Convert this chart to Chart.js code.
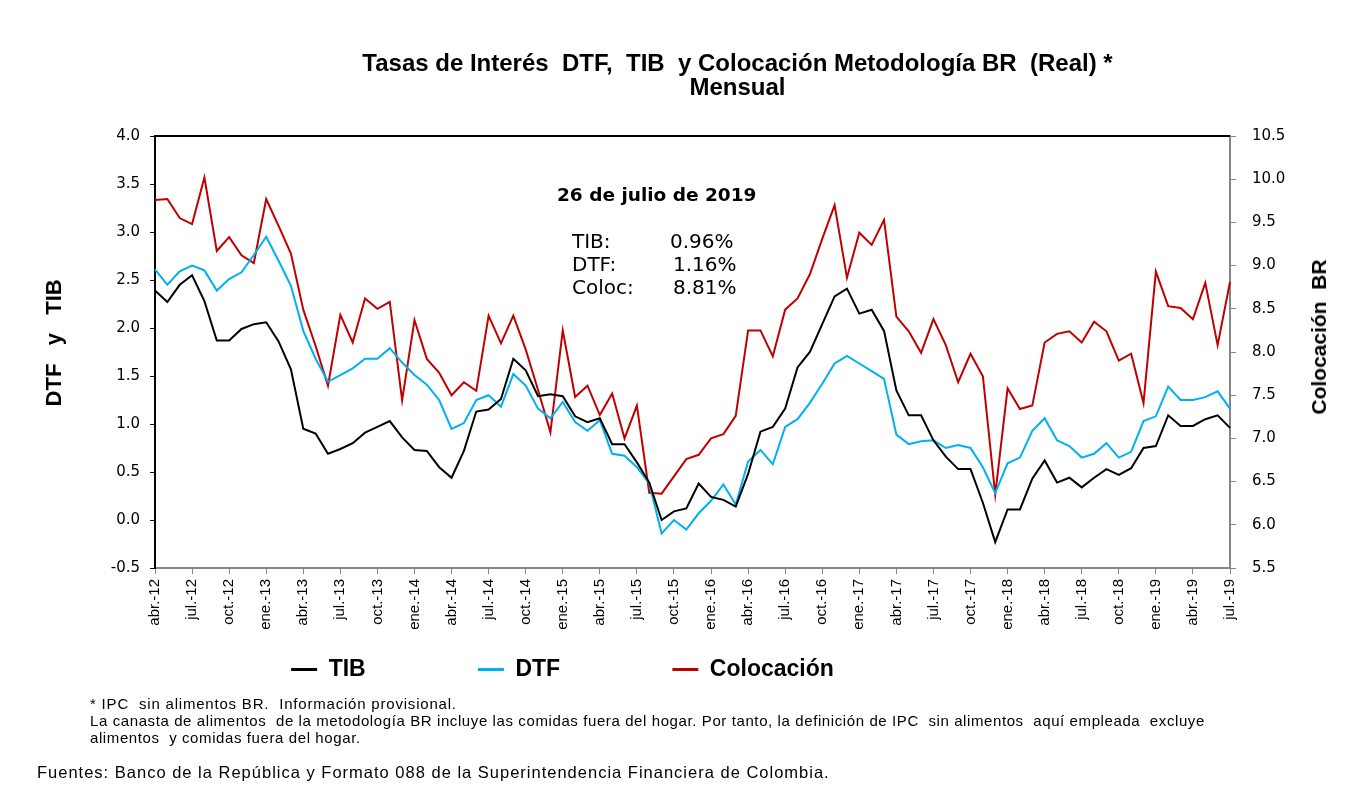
<!DOCTYPE html>
<html>
<head>
<meta charset="utf-8">
<title>Tasas de Interés DTF, TIB y Colocación</title>
<script src="https://cdn.jsdelivr.net/npm/chart.js@4.4.1/dist/chart.umd.min.js"></script>
<style>
    body { margin: 0; background: #fff; }
    #wrap { position: relative; width: 1355px; height: 786px; overflow: hidden; }
    #myChart { position: absolute; left: 0; top: 0; }
    .txt { position: absolute; white-space: pre; color: #000; }
    .anno { font-family: "DejaVu Sans", sans-serif; font-size: 20px; line-height: 20px; }
    .note { font-family: "Liberation Sans", Arial, sans-serif; font-size: 15px; line-height: 17px; letter-spacing: 0.6px; }
</style>
</head>
<body>
<div id="wrap">
    <canvas id="myChart" width="1355" height="786"></canvas>

    <div class="txt" style="left:557px; top:186px; font-family:'DejaVu Sans',sans-serif; font-weight:bold; font-size:18.5px; line-height:18px;">26 de julio de 2019</div>
    <div class="txt anno" style="left:572px; top:231px;">TIB:</div>
    <div class="txt anno" style="left:670px; top:231px;">0.96%</div>
    <div class="txt anno" style="left:572px; top:254px;">DTF:</div>
    <div class="txt anno" style="left:673px; top:254px;">1.16%</div>
    <div class="txt anno" style="left:572px; top:277px;">Coloc:</div>
    <div class="txt anno" style="left:673px; top:277px;">8.81%</div>

    <div class="txt" style="left:1319px; top:337px; transform:translate(-50%,-50%) rotate(-90deg); font-family:'Liberation Sans',Arial,sans-serif; font-weight:bold; font-size:21px;">Colocación  BR</div>

    <div class="txt note" style="left:90px; top:695px; letter-spacing:0.8px;">* IPC  sin alimentos BR.  Información provisional.</div>
    <div class="txt note" style="left:90px; top:712px;">La canasta de alimentos  de la metodología BR incluye las comidas fuera del hogar. Por tanto, la definición de IPC  sin alimentos  aquí empleada  excluye</div>
    <div class="txt note" style="left:90px; top:729px;">alimentos  y comidas fuera del hogar.</div>
    <div class="txt note" style="left:37px; top:764px; font-size:16.5px; letter-spacing:1px;">Fuentes: Banco de la República y Formato 088 de la Superintendencia Financiera de Colombia.</div>
</div>

<script>
// meses (abr-12 a jul-19)
var months = [
    'abr.-12', 'may.-12', 'jun.-12', 'jul.-12', 'ago.-12', 'sep.-12', 'oct.-12', 'nov.-12', 'dic.-12',
    'ene.-13', 'feb.-13', 'mar.-13', 'abr.-13', 'may.-13', 'jun.-13', 'jul.-13', 'ago.-13', 'sep.-13', 'oct.-13', 'nov.-13', 'dic.-13',
    'ene.-14', 'feb.-14', 'mar.-14', 'abr.-14', 'may.-14', 'jun.-14', 'jul.-14', 'ago.-14', 'sep.-14', 'oct.-14', 'nov.-14', 'dic.-14',
    'ene.-15', 'feb.-15', 'mar.-15', 'abr.-15', 'may.-15', 'jun.-15', 'jul.-15', 'ago.-15', 'sep.-15', 'oct.-15', 'nov.-15', 'dic.-15',
    'ene.-16', 'feb.-16', 'mar.-16', 'abr.-16', 'may.-16', 'jun.-16', 'jul.-16', 'ago.-16', 'sep.-16', 'oct.-16', 'nov.-16', 'dic.-16',
    'ene.-17', 'feb.-17', 'mar.-17', 'abr.-17', 'may.-17', 'jun.-17', 'jul.-17', 'ago.-17', 'sep.-17', 'oct.-17', 'nov.-17', 'dic.-17',
    'ene.-18', 'feb.-18', 'mar.-18', 'abr.-18', 'may.-18', 'jun.-18', 'jul.-18', 'ago.-18', 'sep.-18', 'oct.-18', 'nov.-18', 'dic.-18',
    'ene.-19', 'feb.-19', 'mar.-19', 'abr.-19', 'may.-19', 'jun.-19', 'jul.-19'
];

var tib = [
    2.39, 2.27, 2.45, 2.55, 2.28, 1.87, 1.87, 1.99, 2.04,
    2.06, 1.86, 1.57, 0.95, 0.90, 0.69, 0.74, 0.80, 0.91, 0.97, 1.03, 0.86,
    0.73, 0.72, 0.55, 0.44, 0.72, 1.13, 1.15, 1.26, 1.68, 1.56, 1.29, 1.31,
    1.29, 1.08, 1.02, 1.06, 0.79, 0.79, 0.60, 0.39, 0.00, 0.09, 0.12, 0.38,
    0.24, 0.21, 0.14, 0.48, 0.92, 0.97, 1.16, 1.59, 1.75, 2.04, 2.33, 2.41,
    2.15, 2.19, 1.97, 1.35, 1.09, 1.09, 0.83, 0.66, 0.53, 0.53, 0.18, -0.23,
    0.11, 0.11, 0.43, 0.62, 0.39, 0.44, 0.34, 0.44, 0.53, 0.47, 0.54, 0.75,
    0.77, 1.09, 0.98, 0.98, 1.05, 1.09, 0.96
];

var dtf = [
    2.61, 2.45, 2.59, 2.65, 2.60, 2.39, 2.51, 2.58, 2.76,
    2.95, 2.70, 2.44, 1.97, 1.68, 1.44, 1.51, 1.58, 1.68, 1.68, 1.79, 1.64,
    1.51, 1.41, 1.25, 0.95, 1.01, 1.25, 1.30, 1.18, 1.52, 1.40, 1.16, 1.06,
    1.23, 1.02, 0.93, 1.04, 0.69, 0.67, 0.55, 0.38, -0.14, 0.00, -0.10, 0.07,
    0.20, 0.37, 0.16, 0.61, 0.73, 0.58, 0.97, 1.05, 1.22, 1.42, 1.63, 1.71,
    1.63, 1.55, 1.47, 0.89, 0.79, 0.82, 0.83, 0.75, 0.78, 0.75, 0.55, 0.28,
    0.59, 0.65, 0.93, 1.06, 0.83, 0.77, 0.65, 0.69, 0.80, 0.65, 0.71, 1.03,
    1.08, 1.39, 1.25, 1.25, 1.28, 1.34, 1.16
];

var colocacion = [
    9.76, 9.77, 9.55, 9.48, 10.02, 9.17, 9.33, 9.12, 9.03,
    9.77, 9.46, 9.14, 8.49, 8.07, 7.61, 8.43, 8.11, 8.62, 8.50, 8.58, 7.44,
    8.37, 7.92, 7.76, 7.50, 7.65, 7.55, 8.42, 8.10, 8.42, 8.03, 7.56, 7.07,
    8.25, 7.48, 7.61, 7.27, 7.52, 7.00, 7.38, 6.37, 6.36, 6.56, 6.76, 6.81,
    7.00, 7.05, 7.26, 8.25, 8.25, 7.95, 8.49, 8.62, 8.90, 9.31, 9.70, 8.86,
    9.38, 9.24, 9.53, 8.41, 8.24, 7.99, 8.38, 8.08, 7.65, 7.98, 7.72, 6.35,
    7.58, 7.34, 7.38, 8.11, 8.21, 8.24, 8.11, 8.35, 8.24, 7.90, 7.98, 7.41,
    8.93, 8.53, 8.51, 8.38, 8.80, 8.08, 8.81
];

// espacios para separar las entradas de la leyenda
var legendGaps = [' '.repeat(16), ' '.repeat(16), ' '.repeat(36)];
var titlePad = '\u2003'.repeat(5);

Chart.defaults.font.family = "'Liberation Sans', Arial, sans-serif";
Chart.defaults.color = '#000';

// linea superior del area de grafico
var topBorder = {
    id: 'topBorder',
    afterDraw: function(chart) {
        var a = chart.chartArea;
        var c = chart.ctx;
        c.save();
        c.strokeStyle = '#000';
        c.lineWidth = 2;
        c.beginPath();
        c.moveTo(a.left, a.top);
        c.lineTo(a.right, a.top);
        c.stroke();
        c.restore();
    }
};

var ctx = document.getElementById('myChart').getContext('2d');

var myChart = new Chart(ctx, {
    type: 'line',
    data: {
        labels: months,
        datasets: [
            {
                label: 'TIB',
                data: tib,
                yAxisID: 'y',
                borderColor: '#000000',
                backgroundColor: '#000000',
                borderWidth: 2
            },
            {
                label: 'DTF',
                data: dtf,
                yAxisID: 'y',
                borderColor: '#00B0F0',
                backgroundColor: '#00B0F0',
                borderWidth: 2
            },
            {
                label: 'Colocación',
                data: colocacion,
                yAxisID: 'y1',
                borderColor: '#C00000',
                backgroundColor: '#C00000',
                borderWidth: 2
            }
        ]
    },
    options: {
        responsive: false,
        animation: false,
        layout: { padding: { left: 0, right: 0, top: 0, bottom: 95 } },
        elements: {
            point: { radius: 0 },
            line: { tension: 0 }
        },
        plugins: {
            tooltip: { enabled: false },
            title: {
                display: true,
                text: [titlePad + 'Tasas de Interés  DTF,  TIB  y Colocación Metodología BR  (Real) *', titlePad + 'Mensual'],
                font: { size: 24, weight: 'bold', lineHeight: 1.0 },
                color: '#000',
                padding: { top: 52, bottom: 36 }
            },
            legend: {
                position: 'bottom',
                labels: {
                    boxWidth: 26,
                    boxHeight: 3,
                    padding: 10,
                    color: '#000',
                    font: { size: 23, weight: 'bold' },
                    generateLabels: function(chart) {
                        var items = Chart.defaults.plugins.legend.labels.generateLabels(chart);
                        items.forEach(function(item, i) {
                            item.text = item.text + legendGaps[i];
                            item.lineWidth = 0;
                        });
                        return items;
                    }
                }
            }
        },
        scales: {
            x: {
                grid: {
                    drawOnChartArea: false,
                    tickLength: 6,
                    color: function(c) { return c.index % 3 === 0 ? '#868686' : 'rgba(0,0,0,0)'; }
                },
                border: { color: '#868686', width: 2 },
                ticks: {
                    autoSkip: false,
                    maxRotation: 90,
                    minRotation: 90,
                    padding: 5,
                    font: { size: 15 },
                    callback: function(value, index) {
                        return index % 3 === 0 ? this.getLabelForValue(value) : '';
                    }
                },
                afterFit: function(scale) { scale.height = 80; }
            },
            y: {
                position: 'left',
                min: -0.5,
                max: 4,
                grid: { drawOnChartArea: false, tickLength: 5, color: '#000' },
                border: { color: '#000', width: 2 },
                ticks: {
                    stepSize: 0.5,
                    padding: 10,
                    font: { size: 15, family: "'DejaVu Sans', sans-serif" },
                    callback: function(v) { return v.toFixed(1); }
                },
                title: {
                    display: true,
                    text: '   DTF   y   TIB',
                    font: { size: 22, weight: 'bold' },
                    padding: { top: 42, bottom: 0 }
                },
                afterFit: function(scale) { scale.width = 155; }
            },
            y1: {
                position: 'right',
                min: 5.5,
                max: 10.5,
                grid: { drawOnChartArea: false, tickLength: 6, color: '#868686' },
                border: { color: '#868686', width: 2 },
                ticks: {
                    stepSize: 0.5,
                    padding: 16,
                    font: { size: 15, family: "'DejaVu Sans', sans-serif" },
                    callback: function(v) { return v.toFixed(1); }
                },
                afterFit: function(scale) { scale.width = 125; }
            }
        }
    },
    plugins: [topBorder]
});
</script>
</body>
</html>
